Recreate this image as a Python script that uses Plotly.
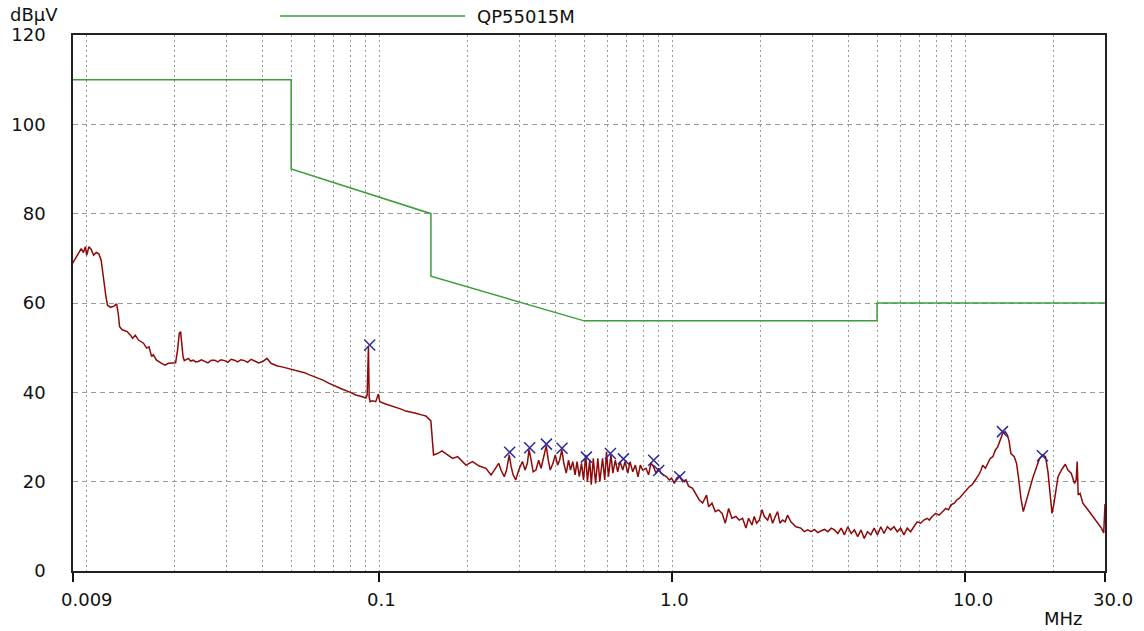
import math
import plotly.graph_objects as go

# ---------------- data ----------------
freq_mhz = [
    0.00898, 0.0091, 0.00934, 0.0096, 0.00977, 0.00992, 0.01002, 0.0102, 0.01039, 0.01058,
    0.0108, 0.01103, 0.01123, 0.01137, 0.01152, 0.01166, 0.0118, 0.0121, 0.01242, 0.01268,
    0.01284, 0.01298, 0.01325, 0.01378, 0.01413, 0.01438, 0.01468, 0.01506, 0.01566, 0.01606,
    0.01636, 0.01657, 0.0167, 0.01692, 0.01736, 0.01806, 0.01855, 0.01905, 0.0198, 0.02016,
    0.02048, 0.02075, 0.02097, 0.02114, 0.02137, 0.02159, 0.02228, 0.0227, 0.02316, 0.0236,
    0.0241, 0.0247, 0.02537, 0.026, 0.0267, 0.02742, 0.0281, 0.0288, 0.02964, 0.0304,
    0.0312, 0.03204, 0.0328, 0.0337, 0.03464, 0.0355, 0.0365, 0.03745, 0.0387, 0.03999,
    0.04134, 0.04264, 0.04489, 0.0465, 0.04858,
    0.05333, 0.0555, 0.05778, 0.05999, 0.062, 0.06395, 0.06739, 0.07102, 0.073, 0.07484,
    0.07887, 0.08312, 0.0876, 0.08991, 0.09085, 0.09132, 0.0918, 0.0923, 0.093, 0.0947,
    0.0972, 0.0992, 0.1003, 0.1051, 0.109, 0.1137, 0.118, 0.1231, 0.128, 0.1332,
    0.1403, 0.1441, 0.1499, 0.1519, 0.1531, 0.158, 0.1636, 0.171, 0.1779, 0.185,
    0.1975, 0.208, 0.2193, 0.2312, 0.2406, 0.2469, 0.2555, 0.2602, 0.267, 0.2718,
    0.2776, 0.2819, 0.2863, 0.2922, 0.2998, 0.3078, 0.3144, 0.3201, 0.3244, 0.3297,
    0.335, 0.3424, 0.3499, 0.3565, 0.3633, 0.3713, 0.3773, 0.3833, 0.3914, 0.3987,
    0.406, 0.4123, 0.4198, 0.4264, 0.4345, 0.4424, 0.4493, 0.4573, 0.4657, 0.4729,
    0.4814, 0.49, 0.4976, 0.5067, 0.5131, 0.5226, 0.529, 0.5373, 0.5472, 0.5571,
    0.5657, 0.578, 0.588, 0.5964, 0.6054, 0.6174, 0.6268, 0.6391, 0.651, 0.663,
    0.6775, 0.6897, 0.7049, 0.7176, 0.7328, 0.748, 0.7637, 0.7778, 0.7919, 0.8133,
    0.8301, 0.8459, 0.8634, 0.8798, 0.898, 0.915, 0.9339, 0.9562, 0.9767, 0.9945,
    1.0158, 1.0344, 1.0565, 1.0843, 1.1136, 1.1364, 1.1731, 1.2201,
    1.2363, 1.269, 1.309, 1.33, 1.366, 1.402, 1.438, 1.479, 1.517, 1.557,
    1.598, 1.649, 1.693, 1.738, 1.784, 1.822, 1.87, 1.905, 1.94, 1.982,
    2.024, 2.061, 2.116, 2.155, 2.2, 2.247, 2.288, 2.33, 2.379, 2.428,
    2.474, 2.54, 2.643, 2.749, 2.823, 2.898, 2.977, 3.056, 3.138, 3.222,
    3.307, 3.398, 3.487, 3.579, 3.674, 3.773, 3.869, 3.973, 4.081, 4.184,
    4.296, 4.41, 4.52, 4.638, 4.762, 4.887, 5.016, 5.151, 5.281, 5.423,
    5.566, 5.712, 5.862, 6.017, 6.175, 6.341, 6.506, 6.678, 6.855, 7.04,
    7.225, 7.413,
    7.54, 7.71, 7.93, 8.14, 8.36, 8.58, 8.77, 8.94, 9.18, 9.35,
    9.55, 9.75, 9.94, 10.13, 10.34, 10.56, 10.75, 10.94, 11.12, 11.33,
    11.47, 11.72, 11.93, 12.17, 12.42, 12.68, 12.91, 13.15, 13.42, 13.7,
    13.94, 14.13, 14.32, 14.7, 14.97, 15.21, 15.49, 15.78, 16.12, 16.56,
    17.0, 17.46, 17.93, 18.4, 18.8, 19.16, 19.53, 19.78, 20.05, 20.37,
    20.74, 21.29, 21.96, 22.41, 23.0, 23.61, 23.92, 24.11, 24.3, 24.67,
    25.2, 26.22, 27.3, 28.4, 29.17, 29.7, 29.85, 30.0,
]
level_dbuv = [
    68.9, 69.6, 70.7, 72.2, 71.3, 72.6, 70.7, 72.6, 72.0, 70.7,
    71.3, 71.0, 69.6, 66.6, 64.0, 61.4, 59.5, 59.0, 59.3, 59.8,
    57.7, 54.7, 54.0, 53.6, 52.8, 52.1, 52.8, 51.7, 51.0, 49.9,
    50.2, 48.7, 48.0, 48.4, 47.2, 46.5, 46.1, 46.5, 46.5, 46.6,
    49.5, 53.2, 53.6, 51.7, 48.0, 47.1, 47.6, 47.0, 47.2, 46.8,
    46.9, 47.3, 46.9, 46.6, 47.2, 47.2, 46.8, 47.3, 47.1, 46.7,
    47.4, 47.2, 46.8, 47.3, 47.1, 46.7, 47.4, 47.0, 46.6, 46.9,
    47.6, 46.5, 45.9, 45.7, 45.4,
    44.6, 44.4, 43.9, 43.5, 43.3, 42.8, 42.0, 41.3, 41.1, 40.7,
    40.1, 39.4, 39.0, 38.7, 39.4, 45.0, 50.2, 39.0, 37.9, 38.1,
    37.9, 39.6, 37.9, 37.4, 37.1, 36.6, 36.3, 35.8, 35.6, 35.3,
    34.9, 34.7, 33.6, 29.3, 26.0, 26.3, 26.9, 26.0, 25.2, 25.6,
    23.7, 24.5, 23.5, 23.0, 21.5, 22.6, 24.1, 22.6, 21.1, 22.6,
    26.0, 23.3, 21.5, 20.4, 22.8, 24.5, 22.6, 24.1, 27.2, 24.8,
    22.2, 22.6, 24.8, 23.0, 25.2, 28.0, 24.8, 22.6, 24.1, 26.0,
    23.7, 24.8, 27.1, 24.1, 21.9, 24.8, 22.6, 24.5, 21.5, 24.5,
    21.1, 24.1, 20.4, 26.0, 20.0, 24.8, 19.3, 25.2, 19.6, 25.2,
    20.0, 25.2, 20.4, 26.7, 21.1, 26.0, 21.9, 24.8, 22.2, 24.5,
    22.6, 24.5, 21.9, 24.5, 22.2, 23.7, 21.1, 23.7, 22.6, 23.0,
    21.5, 24.2, 23.3, 21.9, 23.0, 21.9, 21.5, 21.1, 20.4, 20.8,
    19.6, 20.8, 21.3, 20.0, 20.4, 19.0, 18.5, 16.6,
    15.9, 15.2, 17.0, 14.4, 15.2, 13.3, 13.7, 12.9, 10.7, 14.0,
    11.8, 12.2, 11.4, 11.8, 9.6, 11.8, 10.3, 12.2, 10.7, 11.4,
    13.7, 12.2, 11.4, 12.9, 10.7, 12.2, 13.3, 10.7, 11.4, 11.0,
    12.5, 11.0, 9.9, 9.6, 8.8, 9.2, 8.8, 9.3, 8.6, 9.0,
    9.3, 8.8, 9.6, 9.2, 8.4, 9.6, 8.1, 9.9, 8.4, 9.2,
    7.7, 9.2, 7.3, 8.8, 8.1, 9.6, 8.1, 9.9, 8.4, 9.9,
    9.2, 9.9, 8.8, 9.6, 8.1, 9.6, 8.8, 9.9, 11.0, 10.7,
    11.4, 11.8,
    11.4, 12.2, 12.9, 12.5, 13.3, 14.0, 13.7, 14.8, 15.2, 15.9,
    16.3, 17.0, 17.4, 18.1, 18.9, 19.3, 20.0, 20.8, 21.5, 22.6,
    23.7, 23.0, 23.9, 25.2, 25.6, 27.1, 27.8, 29.3, 30.8, 31.2,
    30.4, 28.9, 26.3, 25.6, 24.1, 20.8, 16.3, 13.3, 15.5, 18.1,
    20.8, 23.0, 25.2, 26.0, 25.6, 22.2, 17.0, 12.9, 14.8, 17.4,
    21.1, 22.6, 23.9, 22.6, 21.9, 19.6, 20.4, 24.5, 17.0, 17.4,
    15.2, 13.7, 12.2, 10.7, 9.6, 8.5, 14.8, 15.0,
]

limit_freq = [0.009, 0.05, 0.05, 0.15, 0.15, 0.5, 5.0, 5.0, 30.0]
limit_level = [110, 110, 90, 80, 66, 56, 56, 60, 60]
limit_name = "QP55015M"

peak_freq = [0.0927, 0.2786, 0.326, 0.3718, 0.4203, 0.509, 0.615, 0.681, 0.864, 0.899, 1.06, 13.4, 18.35]
peak_level = [50.6, 26.6, 27.6, 28.4, 27.5, 25.5, 26.3, 25.1, 24.8, 22.5, 21.1, 31.2, 25.8]

y_tick_vals = [0, 20, 40, 60, 80, 100, 120]
x_tick_vals = [0.009, 0.1, 1.0, 10.0, 30.0]
x_tick_text = ["0.009", "0.1", "1.0", "10.0", "30.0"]

# ---------------- figure ----------------
FONT = "DejaVu Sans"
FS = 18
TXT = "#111111"
grid_freqs = [m * d for d in (0.01, 0.1, 1.0, 10.0) for m in range(1, 10) if m * d <= 30]

fig = go.Figure()
fig.add_trace(go.Scatter(x=limit_freq, y=limit_level, mode="lines",
                         line=dict(color="#3a9e3a", width=1.5), name=limit_name,
                         showlegend=False, hoverinfo="skip"))
fig.add_trace(go.Scatter(x=freq_mhz, y=level_dbuv, mode="lines",
                         line=dict(color="#8e0a0a", width=1.5), showlegend=False))
fig.add_trace(go.Scatter(x=peak_freq, y=peak_level, mode="markers",
                         marker=dict(symbol="x-thin-open", size=11, color="#2b2b9c",
                                     line=dict(color="#2b2b9c", width=1.5)),
                         showlegend=False))

fig.update_layout(
    width=1144, height=631,
    margin=dict(l=73, r=39, t=35, b=60),
    paper_bgcolor="white", plot_bgcolor="white",
    font=dict(family=FONT, size=FS, color=TXT),
    showlegend=False,
)
fig.update_xaxes(
    type="log",
    range=[math.log10(0.009), math.log10(30)],
    tickvals=x_tick_vals, ticktext=[""] * len(x_tick_vals), showticklabels=False,
    ticks="outside", ticklen=9, tickwidth=1.5, tickcolor=TXT,
    showline=True, linecolor="#222222", linewidth=1.5, mirror=True,
    showgrid=True, gridcolor="#9a9a9a", gridwidth=1, griddash="2px,3px",
    minor=dict(tickvals=grid_freqs, showgrid=True, gridcolor="#9a9a9a",
               gridwidth=1, griddash="2px,3px", ticks=""),
    zeroline=False,
)
fig.update_yaxes(
    range=[0, 120], tickvals=y_tick_vals,
    ticks="", ticklabelstandoff=22,
    showline=True, linecolor="#222222", linewidth=1.5, mirror=True,
    showgrid=True, gridcolor="#9a9a9a", gridwidth=1, griddash="5px,4px",
    zeroline=False,
)

# x tick labels (left aligned slightly before each tick, as in the reference)
for v, t in zip(x_tick_vals, x_tick_text):
    fig.add_annotation(x=math.log10(v), y=-0.054, xref="x", yref="paper",
                       text=t, showarrow=False, xanchor="left", yanchor="middle",
                       xshift=-14, font=dict(family=FONT, size=FS, color=TXT))

# axis unit labels
fig.add_annotation(x=-0.063, y=1.038, xref="paper", yref="paper", text="dBµV",
                   showarrow=False, xanchor="left", yanchor="middle",
                   font=dict(family=FONT, size=FS, color=TXT))
fig.add_annotation(x=0.96, y=-0.088, xref="paper", yref="paper", text="MHz",
                   showarrow=False, xanchor="center", yanchor="middle",
                   font=dict(family=FONT, size=FS, color=TXT))

# legend: long green line + name
fig.add_shape(type="line", xref="paper", yref="paper", x0=0.2006, x1=0.380,
              y0=1.0354, y1=1.0354, line=dict(color="#3a9e3a", width=1.5))
fig.add_annotation(x=0.390, y=1.0354, xref="paper", yref="paper", text=limit_name,
                   showarrow=False, xanchor="left", yanchor="middle",
                   font=dict(family=FONT, size=FS, color=TXT))

fig.write_html("out.html")
